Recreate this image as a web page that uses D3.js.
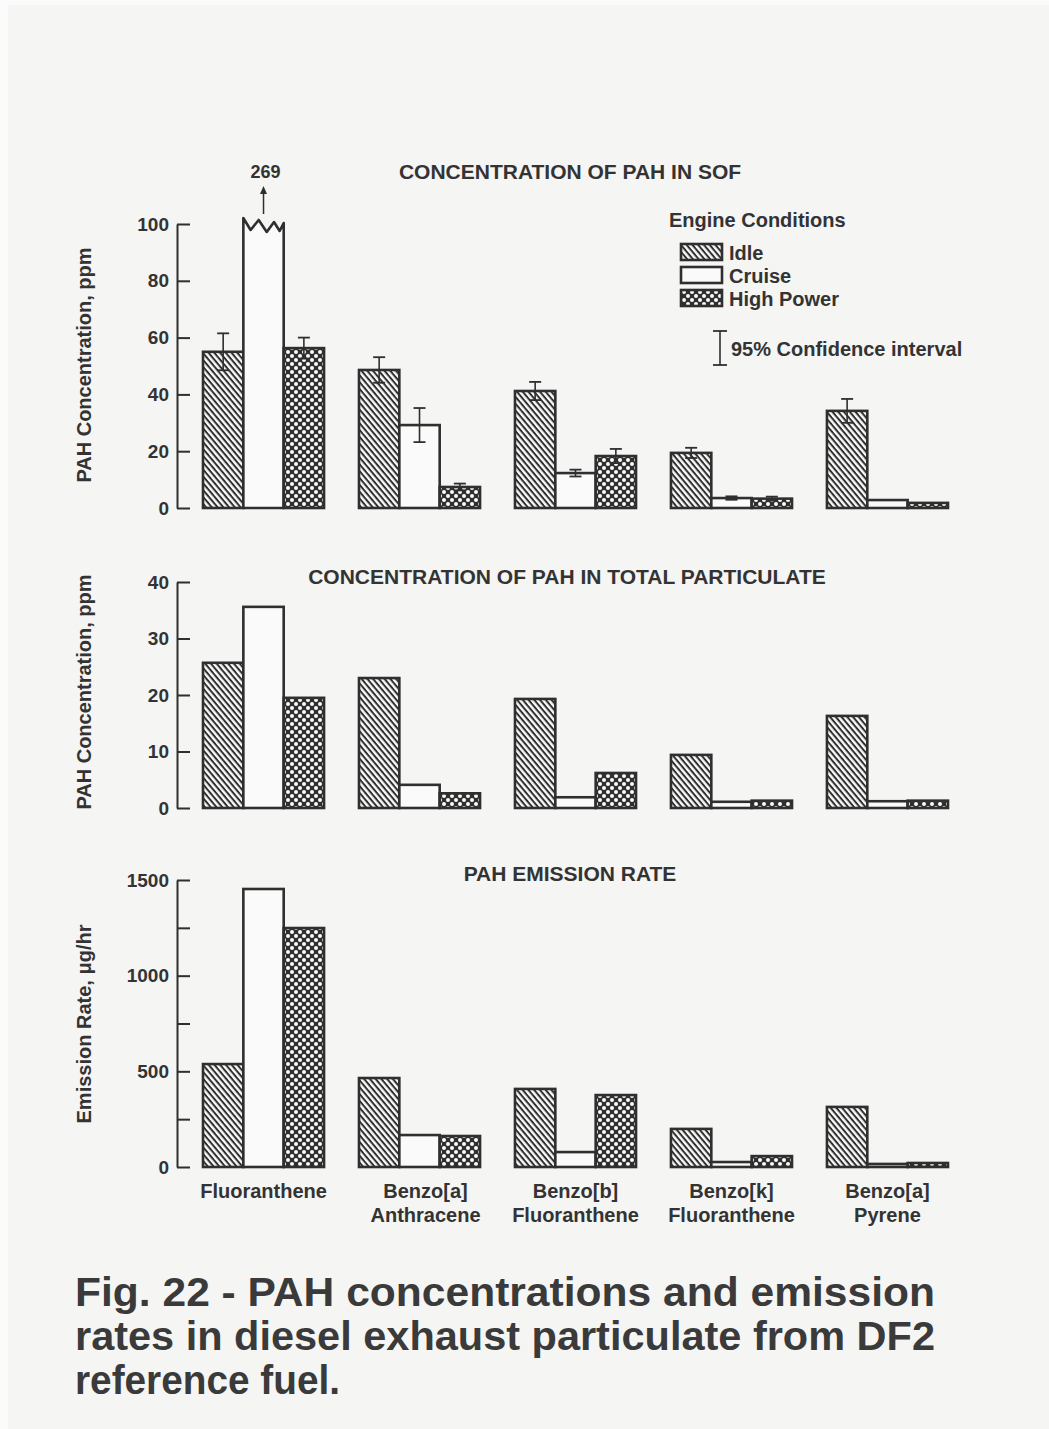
<!DOCTYPE html>
<html>
<head>
<meta charset="utf-8">
<script src="https://cdn.jsdelivr.net/npm/d3@7"></script>
<style>
html,body{margin:0;padding:0;background:#f5f5f4;}
svg{display:block;}
text{font-family:"Liberation Sans",Arial,Helvetica,sans-serif;fill:#333;}
</style>
</head>
<body>
<svg id="chart" width="1049" height="1429"></svg>
<script>
// ---------- DATA ----------
const categories = ["Fluoranthene", "Benzo[a] Anthracene", "Benzo[b] Fluoranthene", "Benzo[k] Fluoranthene", "Benzo[a] Pyrene"];
const categoryLines = [["Fluoranthene"], ["Benzo[a]", "Anthracene"], ["Benzo[b]", "Fluoranthene"], ["Benzo[k]", "Fluoranthene"], ["Benzo[a]", "Pyrene"]];
const conditions = ["Idle", "Cruise", "High Power"];

// Concentration of PAH in SOF (ppm)
const sofIdle   = [55.0, 48.6, 41.2, 19.4, 34.2];
const sofCruise = [269, 29.2, 12.3, 3.5, 2.8];
const sofHigh   = [56.3, 7.4, 18.3, 3.3, 1.8];
// 95% confidence half-widths (ppm)
const sofIdleCI   = [6.5, 4.5, 3.2, 1.8, 4.2];
const sofCruiseCI = [0, 6.0, 1.2, 0.6, 0];
const sofHighCI   = [3.7, 1.2, 2.5, 0.7, 0];

// Concentration of PAH in total particulate (ppm)
const totIdle   = [25.7, 23.0, 19.3, 9.4, 16.3];
const totCruise = [35.6, 4.1, 1.9, 1.1, 1.2];
const totHigh   = [19.5, 2.6, 6.2, 1.3, 1.3];

// PAH emission rate (µg/hr)
const emIdle   = [538, 465, 408, 199, 314];
const emCruise = [1453, 167, 78, 26, 16];
const emHigh   = [1249, 162, 376, 57, 21];

const sofTicks = [0, 20, 40, 60, 80, 100];
const totTicks = [0, 10, 20, 30, 40];
const emTicks  = [0, 250, 500, 750, 1000, 1250, 1500];
const emTickLabels = [0, 500, 1000, 1500];

const panelTitles = ["CONCENTRATION OF PAH IN SOF", "CONCENTRATION OF PAH IN TOTAL PARTICULATE", "PAH EMISSION RATE"];
const yLabels = ["PAH Concentration, ppm", "PAH Concentration, ppm", "Emission Rate, \u03bcg/hr"];
const captionLines = ["Fig. 22 - PAH concentrations and emission", "rates in diesel exhaust particulate from DF2", "reference fuel."];

// ---------- DRAW ----------
const INK = "#2f2f2f";
const svg = d3.select("#chart");
svg.append("rect").attr("width", 1049).attr("height", 1429).attr("fill", "#f5f5f4");
svg.append("rect").attr("width", 1049).attr("height", 5).attr("fill", "#fbfbfb");
svg.append("rect").attr("width", 8).attr("height", 1429).attr("fill", "#fbfbfb");

const defs = svg.append("defs");
// Idle: diagonal "\" hatch
const pIdle = defs.append("pattern").attr("id", "pIdle").attr("patternUnits", "userSpaceOnUse")
  .attr("width", 4.4).attr("height", 4.4).attr("patternTransform", "rotate(50)");
pIdle.append("rect").attr("width", 4.4).attr("height", 4.4).attr("fill", "#fafafa");
pIdle.append("rect").attr("x", 0).attr("y", 0).attr("width", 4.4).attr("height", 2).attr("fill", INK);
// High power: dark crosshatch with white dots
const pHigh = defs.append("pattern").attr("id", "pHigh").attr("patternUnits", "userSpaceOnUse")
  .attr("width", 8).attr("height", 8);
pHigh.append("rect").attr("width", 8).attr("height", 8).attr("fill", INK);
[[0,0],[8,0],[0,8],[8,8],[4,4]].forEach(([cx,cy]) =>
  pHigh.append("circle").attr("cx", cx).attr("cy", cy).attr("r", 2.0).attr("fill", "#fafafa"));

const fills = {"Idle": "url(#pIdle)", "Cruise": "#fafafa", "High Power": "url(#pHigh)"};

const x = d3.scaleBand().domain(categories).range([203, 948]).paddingInner(0.224).paddingOuter(0);
const xs = d3.scaleBand().domain(conditions).range([0, x.bandwidth()]);
const axisX = 177;
const FS = 20;

const panels = [
  {vals: [sofIdle, sofCruise, sofHigh], ci: [sofIdleCI, sofCruiseCI, sofHighCI], max: 100, y0: 508, y1: 224, ticks: sofTicks, labels: sofTicks,
   title: panelTitles[0], titleX: 570, titleY: 179, ylab: yLabels[0], ylabY: 365},
  {vals: [totIdle, totCruise, totHigh], ci: null, max: 40, y0: 808, y1: 582, ticks: totTicks, labels: totTicks,
   title: panelTitles[1], titleX: 567, titleY: 584, ylab: yLabels[1], ylabY: 692},
  {vals: [emIdle, emCruise, emHigh], ci: null, max: 1500, y0: 1167, y1: 880, ticks: emTicks, labels: emTickLabels,
   title: panelTitles[2], titleX: 570, titleY: 881, ylab: yLabels[2], ylabY: 1024}
];

panels.forEach((p, pi) => {
  const y = d3.scaleLinear().domain([0, p.max]).range([p.y0, p.y1]);
  const g = svg.append("g");

  // axis
  const ax = g.append("g").attr("transform", `translate(${axisX},0)`)
    .call(d3.axisLeft(y).tickValues(p.ticks).tickSizeInner(-13).tickSizeOuter(0).tickPadding(8)
      .tickFormat(d => p.labels.includes(d) ? String(d) : ""));
  ax.select(".domain").attr("stroke", INK).attr("stroke-width", 2);
  ax.selectAll(".tick line").attr("stroke", INK).attr("stroke-width", 2);
  ax.selectAll(".tick text").attr("font-size", 19).attr("font-weight", "bold")
    .attr("font-family", "'Liberation Sans',Arial,sans-serif").attr("fill", "#333");

  // title
  g.append("text").attr("x", p.titleX).attr("y", p.titleY).attr("text-anchor", "middle")
    .attr("font-size", 21).attr("font-weight", "bold").text(p.title);
  // y label
  g.append("text").attr("transform", `translate(84,${p.ylabY}) rotate(-90)`).attr("text-anchor", "middle")
    .attr("dominant-baseline", "central").attr("font-size", FS).attr("font-weight", "bold").text(p.ylab);

  // bars
  conditions.forEach((c, ci) => {
    categories.forEach((cat, k) => {
      const v = p.vals[ci][k];
      const bx = x(cat) + xs(c);
      const bw = xs.bandwidth();
      if (v > p.max) {
        // broken bar with zigzag top
        const yt = y(p.max);
        const zz = [[0,-6],[0.18,6],[0.38,-4],[0.58,8],[0.76,-2],[0.9,7],[1,-1]];
        let d = `M${bx},${y(0)} L${bx},${yt + zz[0][1]}`;
        zz.slice(1).forEach(([f, dy]) => { d += ` L${bx + f * bw},${yt + dy}`; });
        d += ` L${bx + bw},${y(0)} Z`;
        g.append("path").attr("d", d).attr("fill", fills[c]).attr("stroke", INK).attr("stroke-width", 2.6)
          .attr("stroke-linejoin", "round");
        // arrow and value label
        const cx = bx + bw / 2;
        g.append("line").attr("x1", cx).attr("x2", cx).attr("y1", yt - 10).attr("y2", yt - 33)
          .attr("stroke", INK).attr("stroke-width", 1.5);
        g.append("path").attr("d", `M${cx - 3.5},${yt - 30} L${cx},${yt - 38} L${cx + 3.5},${yt - 30} Z`).attr("fill", INK);
        g.append("text").attr("x", cx + 2).attr("y", 178).attr("text-anchor", "middle")
          .attr("font-size", 18).attr("font-weight", "bold").text(String(v));
      } else {
        g.append("rect").attr("x", bx).attr("y", y(v)).attr("width", bw).attr("height", y(0) - y(v))
          .attr("fill", fills[c]).attr("stroke", INK).attr("stroke-width", 2.6);
      }
    });
  });

  // error bars
  if (p.ci) {
    conditions.forEach((c, ci) => {
      categories.forEach((cat, k) => {
        const v = p.vals[ci][k], e = p.ci[ci][k];
        if (!e || v > p.max) return;
        const cx = x(cat) + xs(c) + xs.bandwidth() / 2;
        const yh = y(v + e), yl = y(v - e);
        g.append("line").attr("x1", cx).attr("x2", cx).attr("y1", yh).attr("y2", yl).attr("stroke", INK).attr("stroke-width", 1.6);
        [yh, yl].forEach(yy => g.append("line").attr("x1", cx - 6).attr("x2", cx + 6).attr("y1", yy).attr("y2", yy)
          .attr("stroke", INK).attr("stroke-width", 1.8));
      });
    });
  }
});

// category labels
categories.forEach((cat, k) => {
  const cx = x(cat) + x.bandwidth() / 2 + (k === 1 ? 6 : 0);
  categoryLines[k].forEach((ln, li) => {
    svg.append("text").attr("x", cx).attr("y", 1198 + li * 24).attr("text-anchor", "middle")
      .attr("font-size", FS).attr("font-weight", "bold").text(ln);
  });
});

// legend
svg.append("text").attr("x", 669).attr("y", 227).attr("font-size", FS).attr("font-weight", "bold").text("Engine Conditions");
conditions.forEach((c, i) => {
  const yy = 244 + i * 23;
  svg.append("rect").attr("x", 681).attr("y", yy).attr("width", 41).attr("height", 16)
    .attr("fill", fills[c]).attr("stroke", INK).attr("stroke-width", 2.6);
  svg.append("text").attr("x", 729).attr("y", yy + 16).attr("font-size", FS).attr("font-weight", "bold").text(c);
});
// confidence interval key
svg.append("line").attr("x1", 720).attr("x2", 720).attr("y1", 331).attr("y2", 365).attr("stroke", INK).attr("stroke-width", 1.6);
[331, 365].forEach(yy => svg.append("line").attr("x1", 713).attr("x2", 727).attr("y1", yy).attr("y2", yy)
  .attr("stroke", INK).attr("stroke-width", 1.8));
svg.append("text").attr("x", 731).attr("y", 356).attr("font-size", FS).attr("font-weight", "bold").text("95% Confidence interval");

// caption
const capLen = [860, 860, 265];
captionLines.forEach((ln, i) => {
  svg.append("text").attr("x", 75).attr("y", 1306 + i * 44).attr("font-size", 40)
    .attr("font-weight", "bold").style("fill", "#3a3a3a")
    .attr("textLength", capLen[i]).attr("lengthAdjust", "spacingAndGlyphs").text(ln);
});
</script>
</body>
</html>
